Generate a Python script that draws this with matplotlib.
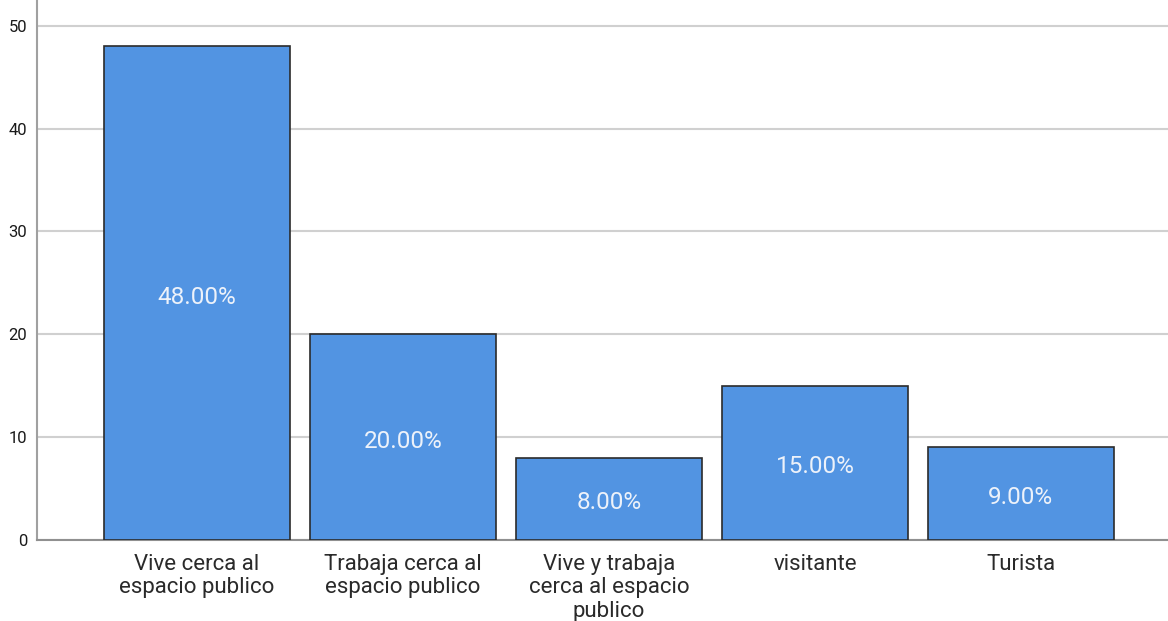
import matplotlib
matplotlib.use("Agg")
import matplotlib.pyplot as plt

categories = ["Vive cerca al\nespacio publico", "Trabaja cerca al\nespacio publico",
              "Vive y trabaja\ncerca al espacio\npublico", "visitante", "Turista"]
values = [48, 20, 8, 15, 9]
pct_labels = ["48.00%", "20.00%", "8.00%", "15.00%", "9.00%"]
yticks = [0, 10, 20, 30, 40, 50]

plt.rcParams['font.family'] = ['Roboto', 'DejaVu Sans']

fig = plt.figure(figsize=(11.68, 6.21), dpi=100)
ax = fig.add_axes([37/1168, 81/621, (1168-37)/1168, 540/621])

x = list(range(len(categories)))
bars = ax.bar(x, values, width=0.9, color="#5294E2", edgecolor="#2b2b2b", linewidth=1.2, zorder=3)
for xi, v, lab in zip(x, values, pct_labels):
    ax.annotate(lab, (xi, v / 2), xytext=(0, -4), textcoords="offset pixels",
                ha="center", va="center", color="#edf2fa", fontsize=17.5, zorder=4)

ax.set_xlim(-0.777, 4.714)
ax.set_ylim(0, 52.5)
ax.set_yticks(yticks)
ax.set_yticklabels([str(t) for t in yticks], fontsize=12, color="#1a1a1a")
ax.set_xticks(x)
ax.set_xticklabels(categories, fontsize=16, color="#2a2a2a", linespacing=1.15)
ax.tick_params(axis="both", length=0)
ax.tick_params(axis="x", pad=10)
ax.tick_params(axis="y", pad=7)
ax.yaxis.grid(True, color="#d0d0d0", linewidth=1.5, zorder=0)
ax.set_axisbelow(True)
for s in ["top", "right"]:
    ax.spines[s].set_visible(False)
ax.spines["left"].set_color("#a0a0a0")
ax.spines["bottom"].set_color("#909090")
ax.spines["left"].set_linewidth(1.5)
ax.spines["bottom"].set_linewidth(1.5)

fig.savefig("out.png", dpi=100, facecolor="white")
